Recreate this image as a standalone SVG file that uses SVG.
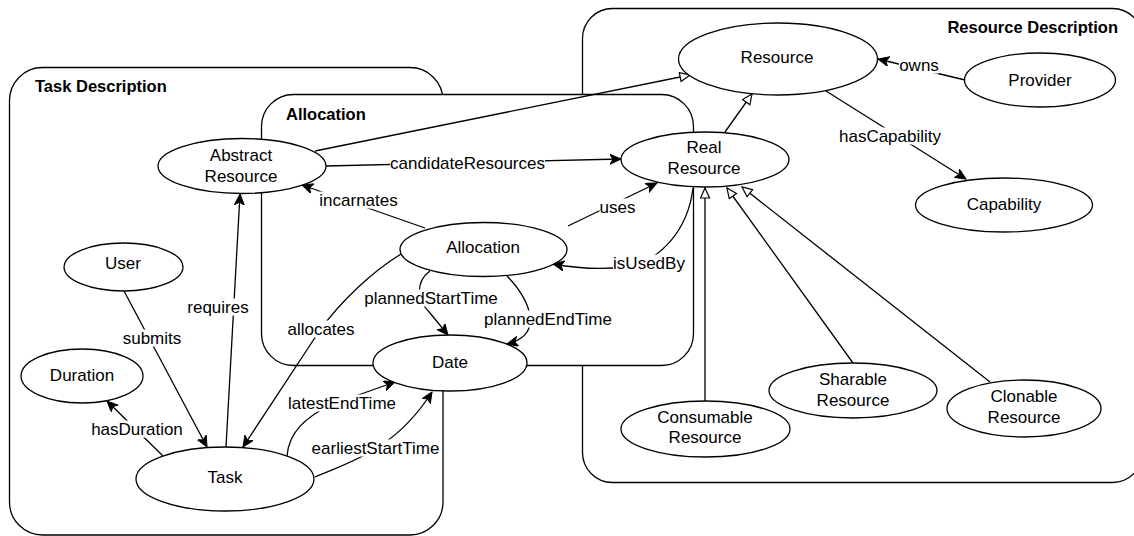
<svg xmlns="http://www.w3.org/2000/svg" width="1134" height="536" viewBox="0 0 1134 536">
  <style>
    .box { fill: #ffffff; stroke: #000000; stroke-width: 1.3; }
    .title { font-family: "Liberation Sans", Arial, sans-serif; font-size: 16.5px; font-weight: bold; fill: #000000; }
    .node ellipse { fill: #ffffff; stroke: #000000; stroke-width: 1.3; }
    .node text, .lbl text { font-family: "Liberation Sans", Arial, sans-serif; font-size: 17px; fill: #000000; text-anchor: middle; dominant-baseline: central; }
    .edge { fill: none; stroke: #000000; stroke-width: 1.3; }
    .rel { marker-end: url(#arrow); }
    .isa { marker-end: url(#triangle); }
    .lbl rect { fill: #ffffff; stroke: none; }
  </style>
  <defs>
    <!-- filled arrowhead for properties -->
    <marker id="arrow" markerUnits="userSpaceOnUse" markerWidth="14" markerHeight="12" refX="11" refY="5" orient="auto">
      <path d="M0,0 L11,5 L0,10 L3,5 Z" fill="#000000" stroke="#000000" stroke-width="1"/>
    </marker>
    <!-- hollow triangle for subclass relations -->
    <marker id="triangle" markerUnits="userSpaceOnUse" markerWidth="14" markerHeight="12" refX="11" refY="5" orient="auto">
      <path d="M1,0.5 L11,5 L1,9.5 Z" fill="#ffffff" stroke="#000000" stroke-width="1.2"/>
    </marker>
  </defs>

  <!-- containers -->
  <g id="task-description">
    <rect class="box" x="9.5" y="67.5" width="433.5" height="467.5" rx="33" ry="33"/>
    <text class="title" x="35" y="92">Task Description</text>
  </g>
  <g id="resource-description">
    <rect class="box" x="582.5" y="8.5" width="560" height="474" rx="30" ry="30"/>
    <text class="title" x="1118" y="33" text-anchor="end">Resource Description</text>
  </g>
  <g id="allocation-box">
    <rect class="box" x="261.5" y="94.5" width="432" height="271" rx="32" ry="32"/>
    <text class="title" x="286" y="120">Allocation</text>
  </g>

  <!-- connectors -->
  <g id="connectors">
    <path class="edge isa" d="M315,151 L690,75"/>
    <path class="edge isa" d="M725,132 L752,94"/>
    <path class="edge isa" d="M705,401 L705,188"/>
    <path class="edge isa" d="M853,363 L727,188"/>
    <path class="edge isa" d="M990,382 L742,187"/>

    <path class="edge rel" d="M965,80 L878,59"/>
    <path class="edge rel" d="M826,91 L966,179"/>
    <path class="edge rel" d="M326,166 L621,159"/>
    <path class="edge rel" d="M425,228 L302,185"/>
    <path class="edge rel" d="M568,226 L657,183"/>
    <path class="edge rel" d="M693,188 C688,230 660,262 625,267 C600,270 575,268 553,264"/>
    <path class="edge rel" d="M430,271 C415,282 417,300 430,313 L448,335"/>
    <path class="edge rel" d="M507,276 C530,300 545,335 507,344"/>
    <path class="edge rel" d="M401,254 C372,272 342,300 320,330 L243,447"/>
    <path class="edge rel" d="M226,447 L240,194"/>
    <path class="edge rel" d="M124,291 L207,447"/>
    <path class="edge rel" d="M163,456 L107,401"/>
    <path class="edge rel" d="M287,456 C289,432 305,418 330,405 L395,382"/>
    <path class="edge rel" d="M315,477 C350,462 395,450 432,392"/>

    <g class="lbl"><rect x="899" y="56.5" width="40" height="17"/><text x="919" y="65">owns</text></g>
    <g class="lbl"><rect x="839" y="127.5" width="102" height="17"/><text x="890" y="136">hasCapability</text></g>
    <g class="lbl"><rect x="390" y="154.5" width="155" height="17"/><text x="467.5" y="163">candidateResources</text></g>
    <g class="lbl"><rect x="319.5" y="191.5" width="78" height="17"/><text x="358.5" y="200">incarnates</text></g>
    <g class="lbl"><rect x="599.5" y="198.5" width="36" height="17"/><text x="617.5" y="207">uses</text></g>
    <g class="lbl"><rect x="613" y="254.5" width="72" height="17"/><text x="649" y="263">isUsedBy</text></g>
    <g class="lbl"><rect x="364" y="289.5" width="134" height="17"/><text x="431" y="298">plannedStartTime</text></g>
    <g class="lbl"><rect x="483.5" y="310.5" width="129" height="17"/><text x="548" y="319">plannedEndTime</text></g>
    <g class="lbl"><rect x="287.5" y="320.5" width="67" height="17"/><text x="321" y="329">allocates</text></g>
    <g class="lbl"><rect x="187.5" y="298.5" width="61" height="17"/><text x="218" y="307">requires</text></g>
    <g class="lbl"><rect x="122.5" y="329.5" width="59" height="17"/><text x="152" y="338">submits</text></g>
    <g class="lbl"><rect x="91" y="420.5" width="92" height="17"/><text x="137" y="429">hasDuration</text></g>
    <g class="lbl"><rect x="288.5" y="394.5" width="107" height="17"/><text x="342" y="403">latestEndTime</text></g>
    <g class="lbl"><rect x="311" y="439.5" width="129" height="17"/><text x="375.5" y="448">earliestStartTime</text></g>
  </g>

  <!-- nodes -->
  <g id="resource" class="node">
    <ellipse cx="778" cy="59" rx="99.5" ry="36"/>
    <text x="777" y="57">Resource</text>
  </g>
  <g id="provider" class="node">
    <ellipse cx="1040" cy="80" rx="75.5" ry="27"/>
    <text x="1040" y="80">Provider</text>
  </g>
  <g id="capability" class="node">
    <ellipse cx="1004" cy="205" rx="88.5" ry="27"/>
    <text x="1004" y="204">Capability</text>
  </g>
  <g id="real-resource" class="node">
    <ellipse cx="705" cy="159.5" rx="84" ry="27.5"/>
    <text x="704" y="147">Real</text>
    <text x="704" y="168">Resource</text>
  </g>
  <g id="abstract-resource" class="node">
    <ellipse cx="242" cy="166" rx="84" ry="27.5"/>
    <text x="241" y="155">Abstract</text>
    <text x="241" y="176">Resource</text>
  </g>
  <g id="allocation" class="node">
    <ellipse cx="483.5" cy="249.5" rx="83.5" ry="27"/>
    <text x="483" y="247">Allocation</text>
  </g>
  <g id="user" class="node">
    <ellipse cx="123.5" cy="267" rx="59.5" ry="24"/>
    <text x="123" y="263">User</text>
  </g>
  <g id="duration" class="node">
    <ellipse cx="82" cy="376" rx="61" ry="27"/>
    <text x="82" y="375">Duration</text>
  </g>
  <g id="date" class="node">
    <ellipse cx="450" cy="363" rx="77" ry="28"/>
    <text x="450" y="362">Date</text>
  </g>
  <g id="task" class="node">
    <ellipse cx="225" cy="479" rx="89" ry="32"/>
    <text x="225" y="477">Task</text>
  </g>
  <g id="consumable-resource" class="node">
    <ellipse cx="705.5" cy="429" rx="84.5" ry="28"/>
    <text x="705" y="417">Consumable</text>
    <text x="705" y="437">Resource</text>
  </g>
  <g id="sharable-resource" class="node">
    <ellipse cx="853" cy="390.5" rx="84" ry="27.5"/>
    <text x="853" y="379">Sharable</text>
    <text x="853" y="400">Resource</text>
  </g>
  <g id="clonable-resource" class="node">
    <ellipse cx="1024" cy="408.5" rx="77" ry="28.5"/>
    <text x="1024" y="396">Clonable</text>
    <text x="1024" y="417">Resource</text>
  </g>
</svg>
